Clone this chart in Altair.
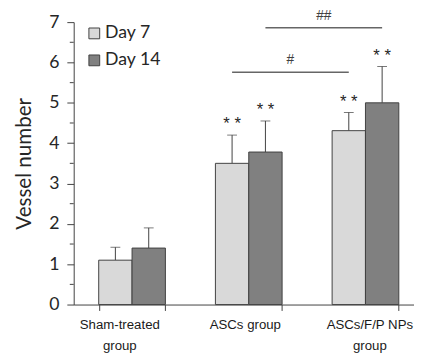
import altair as alt
import pandas as pd

# ---- data ----
groups = ["Sham-treated\ngroup", "ASCs group", "ASCs/F/P NPs\ngroup"]
days = ["Day 7", "Day 14"]
day7_mean = [1.10, 3.50, 4.31]
day7_upper = [1.42, 4.20, 4.76]
day14_mean = [1.40, 3.78, 5.00]
day14_upper = [1.90, 4.55, 5.90]
day7_stars = ["", "* *", "* *"]
day14_stars = ["", "* *", "* *"]

sig_labels = ["#", "##"]
sig_days = ["Day 7", "Day 14"]
sig_level = [5.76, 6.86]
sig_from = "ASCs group"
sig_to = "ASCs/F/P NPs\ngroup"

y_ticks = [0, 1, 2, 3, 4, 5, 6, 7]
y_minor = [0.5, 1.5, 2.5, 3.5, 4.5, 5.5, 6.5]

colors = ["#d9d9d9", "#808080"]
edge = "#404040"

rows = []
for i, g in enumerate(groups):
    rows.append({"group": g, "day": days[0], "mean": day7_mean[i], "upper": day7_upper[i], "stars": day7_stars[i]})
    rows.append({"group": g, "day": days[1], "mean": day14_mean[i], "upper": day14_upper[i], "stars": day14_stars[i]})
df = pd.DataFrame(rows)

sig_rows = []
for lab, d, lv in zip(sig_labels, sig_days, sig_level):
    sig_rows.append({"pair": lab, "group": sig_from, "day": d, "y": lv})
    sig_rows.append({"pair": lab, "group": sig_to, "day": d, "y": lv})
sig_df = pd.DataFrame(sig_rows)
sig_txt = pd.DataFrame({"label": sig_labels, "group": [sig_from] * 2, "day": sig_days, "y": sig_level})
minor_df = pd.DataFrame({"v": y_minor})

xscale = alt.Scale(domain=groups, range=[0, 357], paddingInner=0.4286, paddingOuter=0.2143)
yscale = alt.Scale(domain=[0, 7], nice=False, zero=True)
offscale = alt.Scale(domain=days, paddingInner=0, paddingOuter=0)

xaxis = alt.Axis(
    title=None, labelAngle=0, tickBand="extent", tickSize=6, tickColor=edge,
    domainColor=edge, labelFont="Liberation Sans", labelFontSize=13.5,
    labelColor="#1a1a1a", labelLineHeight=22, labelPadding=7,
    labelExpr="split(datum.label, '\\n')", grid=False,
    labelOffset={"condition": [
        {"test": "datum.value == 'Sham-treated\\ngroup'", "value": -13},
        {"test": "datum.value == 'ASCs group'", "value": -4},
    ], "value": 4},
)
yaxis = alt.Axis(
    values=y_ticks, title="Vessel number", tickSize=7, tickColor=edge, domainColor=edge,
    labelFont="Lato", labelFontSize=18, labelColor="#262626", labelPadding=8, grid=False,
    titleFont="Lato", titleFontSize=21, titleFontWeight="normal", titleColor="#262626",
    titleAngle=-90, titleX=-44, titleY=144, titleAlign="center", titleBaseline="alphabetic",
)

X = alt.X("group:N", sort=groups, scale=xscale, axis=xaxis)
XO = alt.XOffset("day:N", sort=days, scale=offscale)

base = alt.Chart(df).encode(x=X, xOffset=XO)

err = base.mark_rule(color=edge, strokeWidth=1).encode(
    y=alt.Y("mean:Q", scale=yscale, axis=yaxis), y2="upper:Q")
caps = base.mark_tick(color=edge, size=10, thickness=1, orient="horizontal").encode(
    y=alt.Y("upper:Q", scale=yscale))
bars = base.mark_bar(stroke=edge, strokeWidth=1).encode(
    y=alt.Y("mean:Q", scale=yscale, axis=yaxis),
    color=alt.Color("day:N", sort=days, scale=alt.Scale(domain=days, range=colors),
                    legend=alt.Legend(title=None, orient="none", legendX=12, legendY=2.5,
                                      symbolType="square", symbolSize=121,
                                      symbolStrokeColor=edge, symbolStrokeWidth=1,
                                      labelFont="Lato", labelFontSize=18, labelColor="#262626",
                                      rowPadding=9.5, labelOffset=2, padding=0)),
)
stars = base.mark_text(font="Liberation Sans", fontSize=17, dy=-11, baseline="middle",
                       color="#262626").encode(y=alt.Y("upper:Q", scale=yscale), text="stars:N")

sig_lines = alt.Chart(sig_df).mark_line(color="#666666", strokeWidth=1.5).encode(
    x=alt.X("group:N", sort=groups, scale=xscale, axis=xaxis),
    xOffset=alt.XOffset("day:N", sort=days, scale=offscale),
    y=alt.Y("y:Q", scale=yscale), detail="pair:N")
sig_text = alt.Chart(sig_txt).mark_text(font="Liberation Sans", fontSize=14, dx=59.5, dy=-12,
                                        baseline="middle", color="#404040").encode(
    x=alt.X("group:N", sort=groups, scale=xscale, axis=xaxis),
    xOffset=alt.XOffset("day:N", sort=days, scale=offscale),
    y=alt.Y("y:Q", scale=yscale), text="label:N")

minor = alt.Chart(minor_df).mark_rule(color=edge, strokeWidth=1).encode(
    y=alt.Y("v:Q", scale=yscale), x=alt.value(-4), x2=alt.value(0))

chart = alt.layer(err, caps, bars, stars, sig_lines, sig_text, minor).properties(
    width=347, height=288, autosize="none", background="white",
    padding={"left": 67, "top": 11, "right": 0, "bottom": 46},
).configure_view(stroke=None)

chart.save("out.html", embed_options={"renderer": "svg", "actions": False})
